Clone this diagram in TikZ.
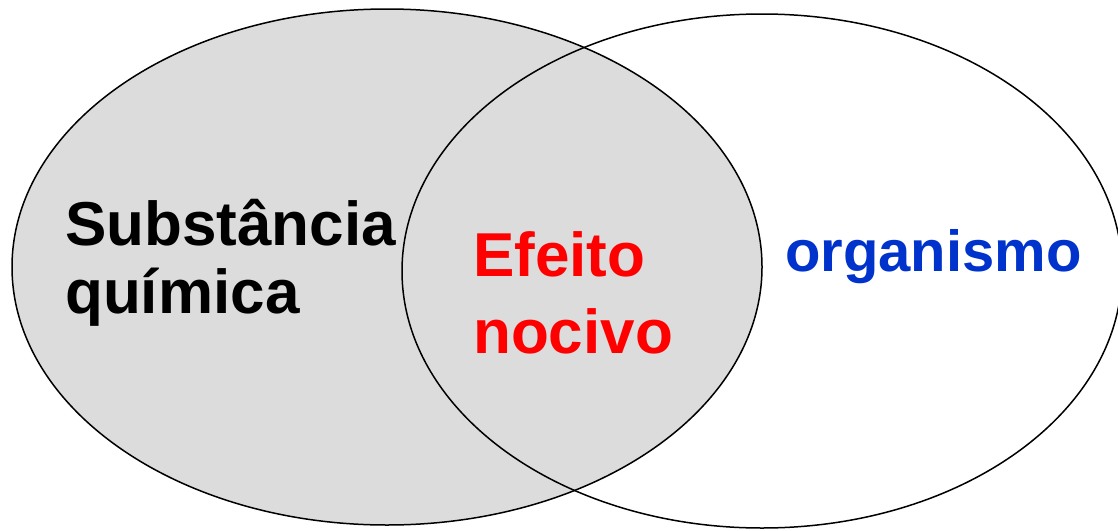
\documentclass[tikz,border=0pt]{standalone}
\usepackage{fontspec}
\setmainfont{Liberation Sans}
\definecolor{fundo}{RGB}{220,220,220}
\definecolor{azul}{RGB}{0,51,204}
\tikzset{
  conjunto/.style={draw=black,line width=1.5pt},
  rotulo/.style={anchor=base west,inner sep=0pt,font=\fontsize{62}{70}\selectfont\bfseries}
}
\begin{document}
\begin{tikzpicture}[x=1pt,y=-1pt]
  \useasboundingbox (0,0) rectangle (1118,530);
  % conjunto da esquerda (substancia)
  \path[conjunto,fill=fundo] (387,267) ellipse [x radius=375,y radius=258];
  % conjunto da direita (organismo)
  \path[conjunto] (762,271) ellipse [x radius=360,y radius=257];

  \node[rotulo] (subst) at (65,245) {Substância};
  \node[rotulo] (quim) at (65,313) {química};
  \node[rotulo,text=red] (efeito) at (473,276) {Efeito};
  \node[rotulo,text=red] (nocivo) at (473,353) {nocivo};
  \node[rotulo,text=azul,font=\fontsize{58}{70}\selectfont\bfseries] (organismo) at (785,271) {organismo};
\end{tikzpicture}
\end{document}
